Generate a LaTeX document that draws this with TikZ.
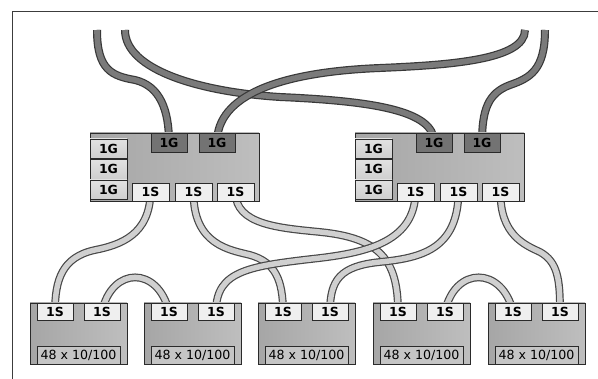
\documentclass[tikz,border=0pt]{standalone}
\usepackage{fontspec}
\setmainfont{DejaVu Sans}
\definecolor{frameC}{HTML}{3C3C3C}
\definecolor{bodyL}{HTML}{A6A6A6}
\definecolor{bodyR}{HTML}{BEBEBE}
\definecolor{darkP}{HTML}{737373}
\definecolor{lightP}{HTML}{DADADA}
\definecolor{sP}{HTML}{EFEFEF}
\definecolor{edgeC}{HTML}{2A2A2A}
\definecolor{upFill}{HTML}{7A7A7A}
\definecolor{upEdge}{HTML}{383838}
\definecolor{dnFill}{HTML}{D0D0D0}
\definecolor{dnEdge}{HTML}{484848}
\pgfdeclarelayer{cables}
\pgfsetlayers{cables,main}
\begin{document}
\begin{tikzpicture}[x=1pt,y=-1pt,
  box/.style={rectangle,anchor=north west,inner sep=0pt,outer sep=0pt,draw=edgeC,line width=0.9pt},
  swbody/.style={box,minimum width=169pt,minimum height=68pt,left color=bodyL,right color=bodyR},
  devbody/.style={box,minimum width=97pt,minimum height=61pt,left color=bodyL,right color=bodyR},
  ptxt/.style={font=\fontsize{12.5}{12.5}\selectfont\bfseries},
  gport/.style={box,ptxt,minimum width=36pt,minimum height=19pt,fill=darkP},
  lport/.style={box,ptxt,minimum width=37pt,minimum height=19.5pt,top color=lightP!80!white,bottom color=lightP!95!black},
  sport/.style={box,ptxt,minimum width=37pt,minimum height=18pt,fill=sP},
  dport/.style={box,ptxt,minimum width=36pt,minimum height=17pt,fill=sP},
  lbl/.style={box,minimum width=83pt,minimum height=18pt,fill=bodyR!90!white,font=\fontsize{12.6}{12.6}\selectfont},
  upl/.style={draw=upEdge,double=upFill,double distance=5.6pt,line width=1.2pt},
  dnl/.style={draw=dnEdge,double=dnFill,double distance=5.4pt,line width=1.2pt}
]
\useasboundingbox (0,0) rectangle (598,379);
\draw[frameC,line width=1pt] (12,379) -- (12,12) -- (598,12);

% switches
\foreach \s/\o in {L/0,R/265}{
  \node[swbody] (\s) at (90+\o,133) {};
  \node[gport] (\s g1) at (151+\o,133) {1G};
  \node[gport] (\s g2) at (199+\o,133) {1G};
  \node[lport] (\s u1) at (90+\o,139) {1G};
  \node[lport] (\s u2) at (90+\o,159.5) {1G};
  \node[lport] (\s u3) at (90+\o,180) {1G};
  \node[sport] (\s s1) at (132+\o,183) {1S};
  \node[sport] (\s s2) at (175+\o,183) {1S};
  \node[sport] (\s s3) at (217+\o,183) {1S};
}
% devices
\foreach \i/\x in {1/30,2/144,3/258,4/373,5/488}{
  \node[devbody] (d\i) at (\x,303) {};
  \node[dport] (d\i-a) at (\x+7,303) {1S};
  \node[dport] (d\i-b) at (\x+54,303) {1S};
  \node[lbl] (d\i-l) at (\x+7,346) {48 x 10/100};
}
\coordinate (t1) at (97,30);
\coordinate (t2) at (125,30);
\coordinate (t3) at (525,30);
\coordinate (t4) at (545,30);

\begin{pgfonlayer}{cables}
% uplinks
\draw[upl] (t1) .. controls (97,70) and (112,76) .. (135,80) .. controls (160,86) and (169,110) .. (Lg1.center);
\draw[upl] (t2) .. controls (125,70) and (200,92) .. (280,97) .. controls (370,101) and (435,110) .. (Rg1.center);
\draw[upl] (t3) .. controls (525,60) and (450,65) .. (380,68) .. controls (280,72) and (217,95) .. (Lg2.center);
\draw[upl] (t4) .. controls (545,70) and (530,78) .. (510,85) .. controls (488,93) and (482,110) .. (Rg2.center);
% downlinks
\draw[dnl] (Ls1.center) .. controls (150,235) and (120,245) .. (95,250) .. controls (62,257) and (55,280) .. (d1-a.center);
\draw[dnl] (Ls2.center) .. controls (193,245) and (230,250) .. (250,255) .. controls (275,262) and (283,280) .. (d3-a.center);
\draw[dnl] (Ls3.center) .. controls (235,225) and (280,228) .. (320,232) .. controls (380,238) and (398,260) .. (d4-a.center);
\draw[dnl] (Rs1.center) .. controls (415,240) and (370,252) .. (320,258) .. controls (250,266) and (216,270) .. (d2-b.center);
\draw[dnl] (Rs2.center) .. controls (458,250) and (420,258) .. (380,262) .. controls (340,266) and (330,280) .. (d3-b.center);
\draw[dnl] (Rs3.center) .. controls (500,235) and (525,245) .. (540,252) .. controls (558,262) and (560,280) .. (d5-b.center);
% loops
\draw[dnl] (d1-b.center) .. controls (112,266) and (158,266) .. (d2-a.center);
\draw[dnl] (d4-b.center) .. controls (455,266) and (502,266) .. (d5-a.center);
\end{pgfonlayer}
\end{tikzpicture}
\end{document}
